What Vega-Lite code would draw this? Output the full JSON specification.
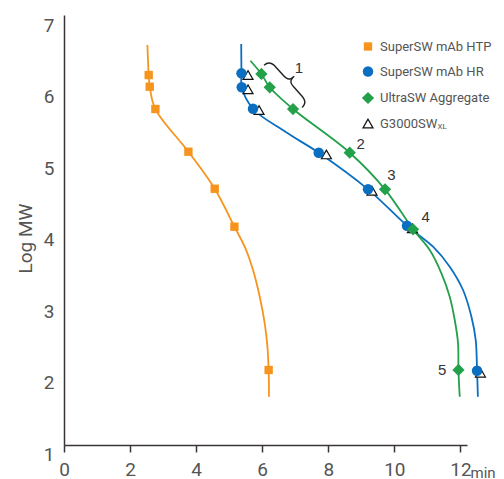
{
  "$schema": "https://vega.github.io/schema/vega-lite/v6.json",
  "width": 403,
  "height": 430,
  "autosize": {"type": "none"},
  "padding": {"left": 64, "top": 15, "right": 37, "bottom": 34},
  "background": "white",
  "config": {"view": {"stroke": null}},
  "datasets": {
    "points": [
      {"series": "G3000SW", "t": 5.571, "v": 6.30},
      {"series": "G3000SW", "t": 5.571, "v": 6.10},
      {"series": "G3000SW", "t": 5.904, "v": 5.81},
      {"series": "G3000SW", "t": 7.944, "v": 5.19},
      {"series": "G3000SW", "t": 9.325, "v": 4.68},
      {"series": "G3000SW", "t": 10.548, "v": 4.157},
      {"series": "G3000SW", "t": 12.607, "v": 2.137},
      {"series": "SuperSW mAb HR", "t": 5.372, "v": 6.324},
      {"series": "SuperSW mAb HR", "t": 5.380, "v": 6.129},
      {"series": "SuperSW mAb HR", "t": 5.722, "v": 5.829},
      {"series": "SuperSW mAb HR", "t": 7.711, "v": 5.214},
      {"series": "SuperSW mAb HR", "t": 9.204, "v": 4.702},
      {"series": "SuperSW mAb HR", "t": 10.384, "v": 4.193},
      {"series": "SuperSW mAb HR", "t": 12.504, "v": 2.165},
      {"series": "UltraSW Aggregate", "t": 5.976, "v": 6.315},
      {"series": "UltraSW Aggregate", "t": 6.228, "v": 6.129},
      {"series": "UltraSW Aggregate", "t": 6.933, "v": 5.825},
      {"series": "UltraSW Aggregate", "t": 8.650, "v": 5.214},
      {"series": "UltraSW Aggregate", "t": 9.718, "v": 4.702},
      {"series": "UltraSW Aggregate", "t": 10.566, "v": 4.143},
      {"series": "UltraSW Aggregate", "t": 11.941, "v": 2.175},
      {"series": "SuperSW mAb HTP", "t": 2.564, "v": 6.30},
      {"series": "SuperSW mAb HTP", "t": 2.595, "v": 6.137},
      {"series": "SuperSW mAb HTP", "t": 2.767, "v": 5.825},
      {"series": "SuperSW mAb HTP", "t": 3.766, "v": 5.228},
      {"series": "SuperSW mAb HTP", "t": 4.563, "v": 4.710},
      {"series": "SuperSW mAb HTP", "t": 5.159, "v": 4.179},
      {"series": "SuperSW mAb HTP", "t": 6.195, "v": 2.175}
    ],
    "curves": [
      {"series": "SuperSW mAb HTP", "t": 2.525, "v": 6.72},
      {"series": "SuperSW mAb HTP", "t": 2.564, "v": 6.30},
      {"series": "SuperSW mAb HTP", "t": 2.595, "v": 6.137},
      {"series": "SuperSW mAb HTP", "t": 2.767, "v": 5.825},
      {"series": "SuperSW mAb HTP", "t": 3.766, "v": 5.228},
      {"series": "SuperSW mAb HTP", "t": 4.563, "v": 4.710},
      {"series": "SuperSW mAb HTP", "t": 5.159, "v": 4.179},
      {"series": "SuperSW mAb HTP", "t": 5.471, "v": 3.899},
      {"series": "SuperSW mAb HTP", "t": 5.722, "v": 3.573},
      {"series": "SuperSW mAb HTP", "t": 5.925, "v": 3.200},
      {"series": "SuperSW mAb HTP", "t": 6.076, "v": 2.828},
      {"series": "SuperSW mAb HTP", "t": 6.158, "v": 2.501},
      {"series": "SuperSW mAb HTP", "t": 6.195, "v": 2.175},
      {"series": "SuperSW mAb HTP", "t": 6.205, "v": 1.80},
      {"series": "SuperSW mAb HR", "t": 5.365, "v": 6.734},
      {"series": "SuperSW mAb HR", "t": 5.372, "v": 6.324},
      {"series": "SuperSW mAb HR", "t": 5.380, "v": 6.129},
      {"series": "SuperSW mAb HR", "t": 5.722, "v": 5.829},
      {"series": "SuperSW mAb HR", "t": 6.712, "v": 5.503},
      {"series": "SuperSW mAb HR", "t": 7.711, "v": 5.214},
      {"series": "SuperSW mAb HR", "t": 9.204, "v": 4.702},
      {"series": "SuperSW mAb HR", "t": 10.384, "v": 4.193},
      {"series": "SuperSW mAb HR", "t": 11.172, "v": 3.899},
      {"series": "SuperSW mAb HR", "t": 11.677, "v": 3.620},
      {"series": "SuperSW mAb HR", "t": 12.080, "v": 3.294},
      {"series": "SuperSW mAb HR", "t": 12.334, "v": 2.920},
      {"series": "SuperSW mAb HR", "t": 12.464, "v": 2.594},
      {"series": "SuperSW mAb HR", "t": 12.504, "v": 2.165},
      {"series": "SuperSW mAb HR", "t": 12.530, "v": 1.80},
      {"series": "UltraSW Aggregate", "t": 5.643, "v": 6.50},
      {"series": "UltraSW Aggregate", "t": 5.976, "v": 6.315},
      {"series": "UltraSW Aggregate", "t": 6.228, "v": 6.129},
      {"series": "UltraSW Aggregate", "t": 6.933, "v": 5.825},
      {"series": "UltraSW Aggregate", "t": 8.650, "v": 5.214},
      {"series": "UltraSW Aggregate", "t": 9.718, "v": 4.702},
      {"series": "UltraSW Aggregate", "t": 10.566, "v": 4.143},
      {"series": "UltraSW Aggregate", "t": 11.072, "v": 3.853},
      {"series": "UltraSW Aggregate", "t": 11.426, "v": 3.527},
      {"series": "UltraSW Aggregate", "t": 11.677, "v": 3.200},
      {"series": "UltraSW Aggregate", "t": 11.829, "v": 2.874},
      {"series": "UltraSW Aggregate", "t": 11.929, "v": 2.548},
      {"series": "UltraSW Aggregate", "t": 11.941, "v": 2.175},
      {"series": "UltraSW Aggregate", "t": 11.980, "v": 1.80}
    ],
    "labels": [
      {"label": "1", "t": 7.114, "v": 6.403},
      {"label": "2", "t": 8.983, "v": 5.336},
      {"label": "3", "t": 9.912, "v": 4.902},
      {"label": "4", "t": 10.951, "v": 4.319},
      {"label": "5", "t": 11.445, "v": 2.175}
    ],
    "brace": [
      {"label": "}", "t": 6.83, "v": 6.20}
    ],
    "sub": [
      {"label": "XL", "t": 11.31, "v": 5.57}
    ]
  },
  "layer": [
    {
      "data": {"name": "curves"},
      "mark": {"type": "line", "interpolate": "catmull-rom", "strokeWidth": 1.8, "clip": false},
      "encoding": {
        "x": {
          "field": "t", "type": "quantitative",
          "scale": {"domain": [0, 12.2], "nice": false, "zero": false},
          "axis": {
            "values": [0, 2, 4, 6, 8, 10, 12],
            "title": "min",
            "titleX": 406, "titleY": 27, "titleAlign": "left", "titleBaseline": "middle", "titleAngle": 0,
            "titleFont": "Roboto", "titleFontSize": 15, "titleFontWeight": "normal", "titleColor": "#555555",
            "grid": false, "domainColor": "#3b3535", "domainWidth": 1.5,
            "tickColor": "#3b3535", "tickWidth": 1.5, "tickSize": 7,
            "labelFont": "Roboto", "labelFontSize": 19, "labelColor": "#555555",
            "labelPadding": 8, "labelFlush": false, "labelOverlap": false
          }
        },
        "y": {
          "field": "v", "type": "quantitative",
          "scale": {"domain": [1.126, 7.14], "nice": false, "zero": false},
          "axis": {
            "values": [1.126, 2, 3, 4, 5, 6, 7],
            "labelExpr": "datum.value < 1.5 ? '1' : format(datum.value, 'd')",
            "labelBaseline": {"condition": {"test": "datum.value < 1.5", "value": "top"}, "value": "middle"},
            "title": "Log MW",
            "titleX": -29, "titleY": 223,
            "titleFont": "Roboto", "titleFontSize": 19, "titleFontWeight": "normal", "titleColor": "#555555",
            "grid": false, "ticks": false, "domainColor": "#3b3535", "domainWidth": 1.5,
            "labelFont": "Roboto", "labelFontSize": 19, "labelColor": "#555555",
            "labelPadding": 10, "labelFlush": false, "labelOverlap": false
          }
        },
        "color": {
          "field": "series", "type": "nominal",
          "scale": {"domain": ["SuperSW mAb HTP", "SuperSW mAb HR", "UltraSW Aggregate"], "range": ["#f7941d", "#0b6fc1", "#23a04a"]},
          "legend": null
        }
      }
    },
    {
      "data": {"name": "points"},
      "mark": {"type": "point", "strokeWidth": 1.2, "opacity": 1, "clip": false},
      "encoding": {
        "x": {"field": "t", "type": "quantitative"},
        "y": {"field": "v", "type": "quantitative"},
        "shape": {
          "field": "series", "type": "nominal",
          "scale": {"domain": ["SuperSW mAb HTP", "SuperSW mAb HR", "UltraSW Aggregate", "G3000SW"], "range": ["square", "circle", "diamond", "triangle-up"]},
          "title": null
        },
        "fill": {
          "field": "series", "type": "nominal",
          "scale": {"domain": ["SuperSW mAb HTP", "SuperSW mAb HR", "UltraSW Aggregate", "G3000SW"], "range": ["#f7941d", "#0b6fc1", "#23a04a", "#ffffff"]},
          "title": null,
          "legend": {
            "orient": "none", "legendX": 297, "legendY": 25,
            "padding": 0, "rowPadding": 9, "labelOffset": 5,
            "labelFont": "Roboto", "labelFontSize": 13, "labelColor": "#555555",
            "symbolStrokeWidth": 1.2, "symbolOpacity": 1, "labelLimit": 300
          }
        },
        "stroke": {
          "field": "series", "type": "nominal",
          "scale": {"domain": ["SuperSW mAb HTP", "SuperSW mAb HR", "UltraSW Aggregate", "G3000SW"], "range": ["transparent", "transparent", "transparent", "#111111"]},
          "title": null
        },
        "size": {
          "field": "series", "type": "nominal",
          "scale": {"type": "ordinal", "domain": ["SuperSW mAb HTP", "SuperSW mAb HR", "UltraSW Aggregate", "G3000SW"], "range": [70, 110, 150, 100]},
          "title": null
        }
      }
    },
    {
      "data": {"name": "labels"},
      "mark": {"type": "text", "font": "Liberation Sans", "fontSize": 15, "color": "#333333", "align": "center", "baseline": "middle"},
      "encoding": {
        "x": {"field": "t", "type": "quantitative"},
        "y": {"field": "v", "type": "quantitative"},
        "text": {"field": "label"}
      }
    },
    {
      "data": {"name": "brace"},
      "mark": {"type": "text", "font": "Inter", "fontWeight": 100, "fontSize": 64, "color": "#222222", "align": "center", "baseline": "middle", "angle": -42},
      "encoding": {
        "x": {"field": "t", "type": "quantitative"},
        "y": {"field": "v", "type": "quantitative"},
        "text": {"field": "label"}
      }
    },
    {
      "data": {"name": "sub"},
      "mark": {"type": "text", "font": "Roboto", "fontSize": 8, "color": "#555555", "align": "left", "baseline": "middle"},
      "encoding": {
        "x": {"field": "t", "type": "quantitative"},
        "y": {"field": "v", "type": "quantitative"},
        "text": {"field": "label"}
      }
    }
  ]
}
